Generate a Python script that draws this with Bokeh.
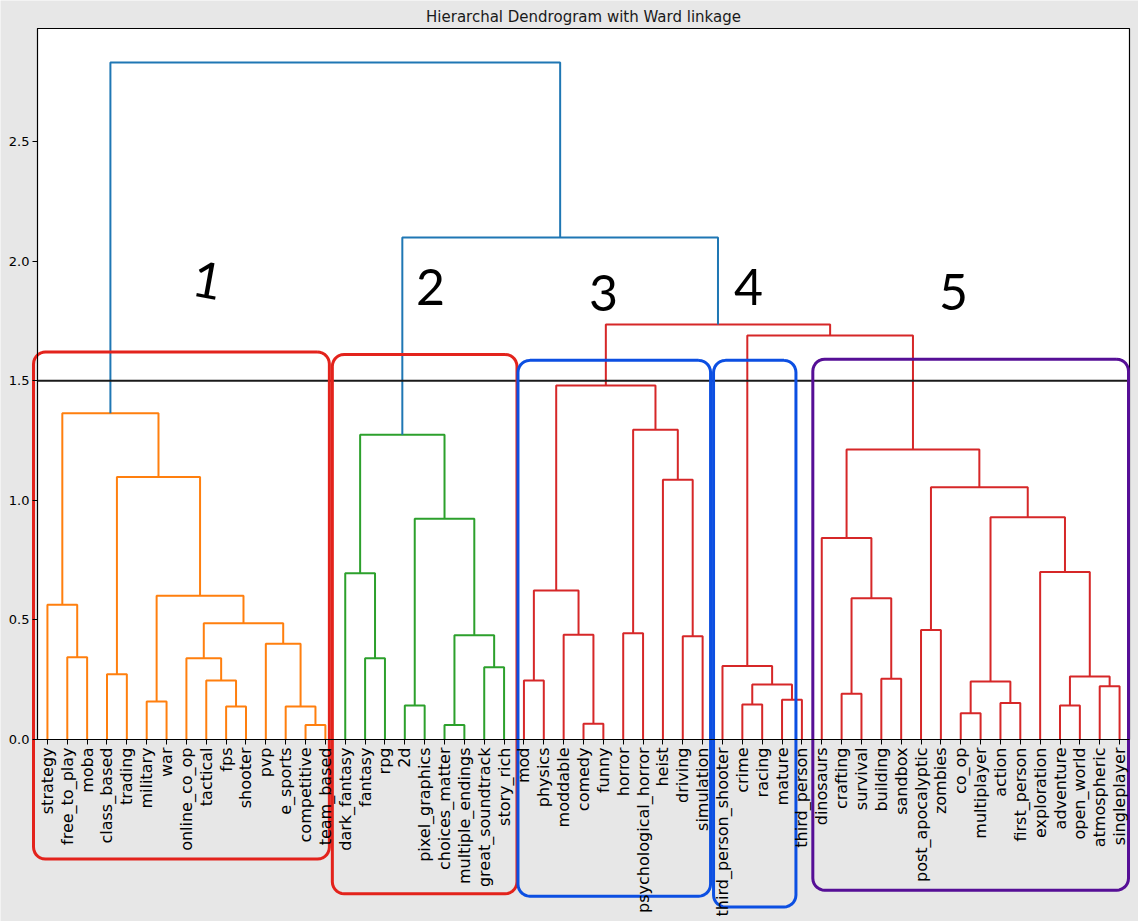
import math
import numpy as np
from bokeh.plotting import figure
from bokeh.models import ColumnDataSource, FixedTicker, PrintfTickFormatter, Range1d
from bokeh.core.properties import value
from bokeh.embed import file_html
from bokeh.resources import INLINE

# ---------------- data ----------------
TITLE = "Hierarchal Dendrogram with Ward linkage"

leaf_labels = [
    "strategy", "free_to_play", "moba", "class_based", "trading", "military", "war",
    "online_co_op", "tactical", "fps", "shooter", "pvp", "e_sports", "competitive", "team_based",
    "dark_fantasy", "fantasy", "rpg", "2d", "pixel_graphics", "choices_matter",
    "multiple_endings", "great_soundtrack", "story_rich",
    "mod", "physics", "moddable", "comedy", "funny", "horror", "psychological_horror",
    "heist", "driving", "simulation",
    "third_person_shooter", "crime", "racing", "mature", "third_person",
    "dinosaurs", "crafting", "survival", "building", "sandbox", "post_apocalyptic", "zombies",
    "co_op", "multiplayer", "action", "first_person", "exploration", "adventure",
    "open_world", "atmospheric", "singleplayer",
]

# linkage: node ids 0..54 are leaves, merge k gets id 55+k
merge_left = [1, 0, 3, 5, 9, 8, 7, 13, 12, 11, 61, 58, 57, 56,
              16, 15, 18, 20, 22, 72, 71, 70,
              24, 27, 26, 77, 29, 32, 31, 81, 80,
              35, 37, 86, 34,
              40, 42, 90, 39, 44, 46, 48, 95, 51, 53, 98, 50, 97, 94, 93,
              89, 85, 76, 68]
merge_right = [2, 55, 4, 6, 10, 59, 60, 14, 62, 63, 64, 65, 66, 67,
               17, 69, 19, 21, 23, 73, 74, 75,
               25, 28, 78, 79, 30, 33, 82, 83, 84,
               36, 38, 87, 88,
               41, 43, 91, 92, 45, 47, 49, 96, 52, 54, 99, 100, 101, 102, 103,
               104, 105, 106, 107]
merge_height = [0.344, 0.563, 0.273, 0.159, 0.138, 0.247, 0.340, 0.061, 0.138, 0.400,
                0.486, 0.601, 1.097, 1.364,
                0.340, 0.695, 0.142, 0.061, 0.302, 0.436, 0.923, 1.274,
                0.247, 0.066, 0.438, 0.623, 0.444, 0.432, 1.086, 1.295, 1.480,
                0.146, 0.166, 0.230, 0.307,
                0.191, 0.254, 0.591, 0.842, 0.458, 0.110, 0.153, 0.242, 0.142, 0.223,
                0.263, 0.700, 0.929, 1.055, 1.212,
                1.689, 1.735, 2.099, 2.830]

cut_height = 1.5
y_ticks = [0.0, 0.5, 1.0, 1.5, 2.0, 2.5]

# hand-drawn annotation groups (leaf ranges)
group_names = ["1", "2", "3", "4", "5"]
group_first_leaf = [0, 15, 24, 34, 39]
group_last_leaf = [14, 23, 33, 38, 54]

# ---------------- styles / layout ----------------
W, H = 1138, 921
PX_LEFT, PX_RIGHT, PX_TOP, PX_BOTTOM = 37, 1129, 28, 739
PX_PER_Y = 239.2
BG = "#e7e7e7"
LINK_COLORS = ["#ff7f0e", "#2ca02c", "#d62728", "#9467bd", "#8c564b"]
ABOVE_COLOR = "#1f77b4"

n = len(leaf_labels)
XMAX = 10.0 * n
xper = XMAX / (PX_RIGHT - PX_LEFT)
YTOP = (PX_BOTTOM - PX_TOP) / PX_PER_Y

p = figure(width=W, height=H, output_backend="svg", toolbar_location=None,
           x_range=Range1d(-PX_LEFT * xper, XMAX + (W - PX_RIGHT) * xper),
           y_range=Range1d(-(H - PX_BOTTOM) / PX_PER_Y, PX_BOTTOM / PX_PER_Y),
           min_border=0)
p.outline_line_color = None
p.background_fill_color = BG
p.border_fill_color = BG
p.grid.visible = False

# plot area (white with black frame)
p.quad(left=[0], right=[XMAX], bottom=[0], top=[YTOP],
       fill_color="white", line_color="black", line_width=1.2)

# ---------------- dendrogram geometry ----------------
node_x = {i: 5.0 + 10.0 * i for i in range(n)}
node_h = {i: 0.0 for i in range(n)}
parent = {}
for k, (a, b, h) in enumerate(zip(merge_left, merge_right, merge_height)):
    nid = n + k
    node_x[nid] = 0.5 * (node_x[a] + node_x[b])
    node_h[nid] = h
    parent[a] = nid
    parent[b] = nid

threshold = 0.7 * max(merge_height)

def cluster_root(nid):
    while nid in parent and node_h[parent[nid]] < threshold:
        nid = parent[nid]
    return nid

roots = sorted({cluster_root(n + k) for k, h in enumerate(merge_height) if h < threshold},
               key=lambda r: node_x[r])
root_color = {r: LINK_COLORS[i % len(LINK_COLORS)] for i, r in enumerate(roots)}

xs, ys, cols = [], [], []
for k, (a, b, h) in enumerate(zip(merge_left, merge_right, merge_height)):
    xs.append([node_x[a], node_x[a], node_x[b], node_x[b]])
    ys.append([node_h[a], h, h, node_h[b]])
    cols.append(ABOVE_COLOR if h >= threshold else root_color[cluster_root(n + k)])

src = ColumnDataSource(dict(xs=xs, ys=ys, color=cols))
p.multi_line(xs="xs", ys="ys", line_color="color", line_width=2, source=src)

# cut line
p.line(x=[0, XMAX], y=[cut_height, cut_height], line_color="#1a1a1a", line_width=2)

# ---------------- axes ----------------
leaf_x = [5 + 10 * i for i in range(n)]
xa = p.xaxis[0]
xa.fixed_location = 0
xa.bounds = (0, XMAX)
xa.ticker = FixedTicker(ticks=leaf_x)
xa.major_label_overrides = {int(x): lab for x, lab in zip(leaf_x, leaf_labels)}
xa.major_label_orientation = math.pi / 2
xa.major_label_text_font = "DejaVu Sans"
xa.major_label_text_font_size = "16px"
xa.major_label_text_color = "black"
xa.major_tick_out = 5
xa.major_tick_in = 0
xa.minor_tick_out = 0
xa.minor_tick_in = 0
xa.major_label_standoff = 3
xa.axis_line_color = "black"
xa.major_tick_line_color = "black"

ya = p.yaxis[0]
ya.fixed_location = 0
ya.bounds = (0, YTOP)
ya.ticker = FixedTicker(ticks=y_ticks)
ya.formatter = PrintfTickFormatter(format="%.1f")
ya.major_label_text_font = "DejaVu Sans"
ya.major_label_text_font_size = "13px"
ya.major_label_text_color = "black"
ya.major_tick_out = 5
ya.major_tick_in = 0
ya.minor_tick_out = 0
ya.minor_tick_in = 0
ya.major_label_standoff = 3
ya.axis_line_color = "black"
ya.major_tick_line_color = "black"

# title
p.text(x=[XMAX / 2], y=[(PX_BOTTOM - 16) / PX_PER_Y], text=[TITLE],
       text_align="center", text_baseline="middle",
       text_font=value("DejaVu Sans"), text_font_size="15px", text_color="#1a1a1a")

# ---------------- hand-drawn style annotations ----------------
box_colors = ["#e3231c", "#e3231c", "#0c4fe2", "#0c4fe2", "#560f96"]
box_pad_left = [7, 6.5, 3, 4.5, 4.5]
box_pad_right = [2, 6.5, 4, -3, 4.5]
box_top = [1.62, 1.61, 1.585, 1.585, 1.59]
box_bottom = [-0.50, -0.645, -0.655, -0.70, -0.63]

def rounded_box(l, r, t, b, rx, ry, npts=8):
    bx, by = [], []
    arcs = [((r - rx, t - ry), 90, 0), ((r - rx, b + ry), 0, -90),
            ((l + rx, b + ry), -90, -180), ((l + rx, t - ry), 180, 90)]
    for (cx, cy), a0, a1 in arcs:
        for a in np.linspace(math.radians(a0), math.radians(a1), npts):
            bx.append(cx + rx * math.cos(a))
            by.append(cy + ry * math.sin(a))
    bx.append(bx[0])
    by.append(by[0])
    return bx, by

bxs, bys = [], []
for i in range(len(group_names)):
    l = node_x[group_first_leaf[i]] - box_pad_left[i]
    r = node_x[group_last_leaf[i]] + box_pad_right[i]
    bx, by = rounded_box(l, r, box_top[i], box_bottom[i], 6.0, 0.05)
    bxs.append(bx)
    bys.append(by)
p.multi_line(xs=bxs, ys=bys, line_color=box_colors, line_width=3)

num_x = [85.6, 197.9, 285.1, 358.1, 461.4]
num_y = [1.92, 1.89, 1.865, 1.89, 1.87]
num_angle = [-0.18, 0, 0, 0, 0]
p.text(x=num_x, y=num_y, text=group_names, angle=num_angle,
       text_align="center", text_baseline="middle",
       text_font=value("Lato"), text_font_size="50px", text_color="black")

open("out.html", "w").write(file_html(p, INLINE))
